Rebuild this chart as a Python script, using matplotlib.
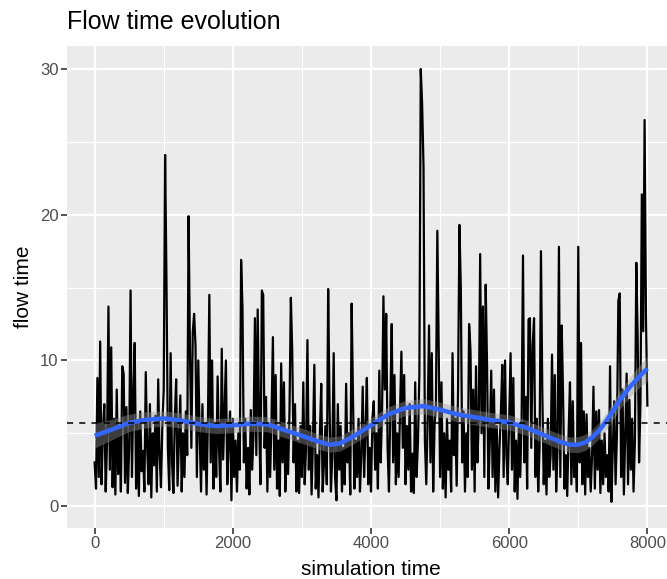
import numpy as np
import matplotlib
matplotlib.use("Agg")
import matplotlib.pyplot as plt

# ---- data ----
flow_time = [
    3.0, 1.2, 8.8, 2.0, 11.3, 1.5, 5.2, 7.0, 1.0, 4.5, 13.7, 2.5, 10.9, 1.3, 6.0, 0.8, 8.0, 2.2, 5.5, 1.0, 9.6, 9.1, 1.6, 6.8, 0.9,
    4.0, 14.8, 2.0, 7.5, 11.2, 1.2, 5.8, 0.7, 6.5, 2.4, 3.8, 1.0, 9.2, 4.0, 1.5, 7.0, 0.6, 5.0, 2.8, 6.2, 1.0, 8.7, 3.5, 1.3, 5.5,
    8.0, 24.1, 15.4, 4.0, 1.1, 10.5, 3.0, 0.9, 6.0, 8.7, 1.4, 4.5, 7.6, 1.0, 5.0, 2.0, 6.5, 3.5, 19.9, 10.5, 4.0, 11.9, 13.2, 11.0, 2.0,
    10.0, 5.0, 1.0, 7.0, 2.5, 5.5, 0.8, 6.0, 14.5, 3.0, 10.0, 1.2, 5.5, 2.0, 8.9, 4.0, 1.0, 10.8, 3.2, 6.5, 10.0, 1.5, 4.5, 6.5, 0.4,
    6.0, 2.0, 4.5, 1.0, 5.0, 2.5, 16.9, 13.6, 3.0, 6.0, 1.2, 4.0, 0.8, 6.6, 2.5, 5.0, 12.9, 3.5, 13.5, 6.0, 1.5, 14.8, 14.5, 4.0, 7.5,
    1.0, 5.5, 2.0, 6.0, 11.6, 2.5, 9.0, 1.2, 4.5, 0.7, 9.8, 3.0, 8.5, 1.0, 5.0, 2.2, 6.5, 14.3, 10.6, 3.0, 7.0, 1.0, 4.5, 0.9, 5.5,
    2.0, 8.5, 1.5, 4.0, 11.4, 2.5, 5.5, 0.8, 4.5, 9.7, 1.2, 3.5, 0.6, 5.0, 8.4, 1.0, 3.0, 5.5, 1.5, 14.9, 7.0, 1.0, 3.5, 10.5, 2.0,
    0.4, 7.0, 2.5, 5.5, 1.0, 4.0, 1.5, 8.4, 3.0, 5.0, 0.8, 13.9, 7.2, 1.2, 4.5, 2.0, 6.0, 1.0, 3.5, 8.2, 2.0, 5.0, 8.8, 1.5, 4.0,
    1.0, 6.0, 7.2, 2.5, 5.0, 1.2, 9.3, 3.0, 6.5, 14.4, 8.0, 13.2, 4.0, 1.0, 7.0, 12.5, 3.0, 9.0, 1.5, 5.0, 2.0, 6.5, 10.6, 4.0, 9.0,
    1.5, 5.5, 2.5, 7.0, 1.0, 3.6, 0.9, 8.5, 2.0, 4.5, 9.0, 30.0, 27.6, 23.3, 4.5, 1.5, 6.0, 12.4, 3.0, 10.5, 1.0, 5.5, 7.0, 18.9, 10.8,
    2.0, 8.5, 1.2, 5.0, 0.6, 6.0, 2.5, 4.5, 1.0, 10.5, 3.5, 6.0, 1.4, 8.0, 19.3, 15.0, 3.0, 6.5, 1.0, 5.0, 2.0, 12.5, 10.7, 2.5, 8.0,
    1.0, 9.6, 3.0, 6.0, 17.3, 5.0, 13.7, 2.0, 15.2, 9.6, 1.2, 4.5, 9.3, 2.0, 8.0, 1.0, 5.5, 0.6, 4.0, 6.5, 9.7, 2.0, 10.0, 3.5, 1.5,
    6.0, 10.5, 2.5, 8.8, 1.0, 4.5, 0.5, 5.5, 2.0, 6.0, 17.2, 3.0, 7.5, 1.2, 12.8, 12.9, 4.0, 11.0, 12.9, 2.0, 6.0, 1.0, 4.0, 17.5, 7.7,
    1.5, 4.5, 0.8, 6.0, 2.0, 3.5, 10.4, 2.5, 9.0, 1.0, 4.0, 17.8, 2.0, 12.4, 7.6, 1.2, 3.5, 0.7, 5.0, 8.5, 1.5, 7.2, 2.0, 4.0, 1.0,
    17.8, 3.0, 11.2, 1.5, 6.5, 0.8, 6.3, 2.0, 4.0, 1.0, 3.5, 8.2, 1.2, 6.5, 2.5, 6.6, 0.9, 4.5, 1.5, 5.0, 2.0, 3.5, 1.0, 9.6, 0.3,
    4.0, 7.2, 1.5, 5.0, 14.1, 14.6, 2.0, 8.0, 0.8, 5.0, 9.1, 1.5, 7.3, 2.5, 6.0, 1.0, 4.5, 16.7, 11.5, 3.0, 7.0, 21.4, 12.0, 26.5, 13.0,
    6.9,
]
time_step = 20
sim_time = np.arange(len(flow_time)) * time_step

smooth_t = [0, 250, 500, 750, 1000, 1250, 1500, 1750, 2000, 2250, 2500, 2750, 3000, 3125, 3250,
            3400, 3550, 3750, 4000, 4250, 4500, 4750, 5000, 5250, 5500, 5750, 6000, 6250, 6500,
            6625, 6750, 6875, 7000, 7100, 7200, 7300, 7400, 7500, 7600, 7750, 7875, 8000]
smooth_y = [4.83, 5.26, 5.72, 5.93, 6.02, 5.88, 5.64, 5.50, 5.55, 5.66, 5.62, 5.22, 4.83, 4.62, 4.42,
            4.22, 4.30, 4.80, 5.55, 6.30, 6.74, 6.86, 6.62, 6.30, 6.10, 5.90, 5.75, 5.38, 4.88,
            4.63, 4.40, 4.22, 4.22, 4.38, 4.72, 5.18, 5.80, 6.52, 7.27, 8.20, 8.85, 9.45]
smooth_se = [0.85, 0.7, 0.6, 0.55, 0.52, 0.52, 0.52, 0.52, 0.52, 0.52, 0.52, 0.52, 0.52, 0.52, 0.52,
             0.52, 0.52, 0.52, 0.52, 0.52, 0.52, 0.52, 0.52, 0.52, 0.52, 0.52, 0.52, 0.52, 0.52,
             0.52, 0.52, 0.53, 0.55, 0.55, 0.55, 0.56, 0.58, 0.6, 0.63, 0.68, 0.75, 0.85]
mean_flow = 5.68

x_ticks = [0, 2000, 4000, 6000, 8000]
y_ticks = [0, 10, 20, 30]

# ---- figure ----
W, H = 667, 579
fig = plt.figure(figsize=(W / 100, H / 100), dpi=100)
fig.patch.set_facecolor("white")
pl, pr, pt, pb = 67, 675, 46, 528
ax = fig.add_axes([pl / W, 1 - pb / H, (pr - pl) / W, (pb - pt) / H])
ax.set_facecolor("#EBEBEB")
ax.set_xlim(-400, 8400)
ax.set_ylim(-1.5, 31.58)

for s in ax.spines.values():
    s.set_visible(False)

ax.set_xticks(x_ticks)
ax.set_yticks(y_ticks)
ax.set_xticks([1000, 3000, 5000, 7000], minor=True)
ax.set_yticks([5, 15, 25], minor=True)
ax.grid(which="major", color="white", linewidth=1.6)
ax.grid(which="minor", color="white", linewidth=0.8)
ax.set_axisbelow(True)
ax.tick_params(which="major", length=4, width=1.2, color="#333333",
               labelsize=12, labelcolor="#4D4D4D", pad=2)
ax.tick_params(which="minor", length=0)
for lab in ax.get_xticklabels() + ax.get_yticklabels():
    lab.set_fontfamily("Liberation Sans")

ax.plot(sim_time, flow_time, color="black", linewidth=1.6, zorder=3)

st = np.array(smooth_t)
sy = np.array(smooth_y)
se = np.array(smooth_se)
ax.fill_between(st, sy - se, sy + se, color="#999999", alpha=0.4, linewidth=0, zorder=4)
ax.plot(st, sy, color="#3366FF", linewidth=3.2, zorder=5, solid_capstyle="butt",
        solid_joinstyle="round")

ax.axhline(mean_flow, color="black", linewidth=1.1, linestyle=(0, (4, 4)), zorder=6)

ax.set_xlabel("simulation time", fontsize=15, fontfamily="Liberation Sans", labelpad=6)
ax.set_ylabel("flow time", fontsize=15, fontfamily="Liberation Sans", labelpad=5)
fig.text(pl / W, 1 - 22 / H, "Flow time evolution", fontsize=18,
         fontfamily="Liberation Sans", ha="left", va="center")

fig.savefig("out.png", dpi=100)
